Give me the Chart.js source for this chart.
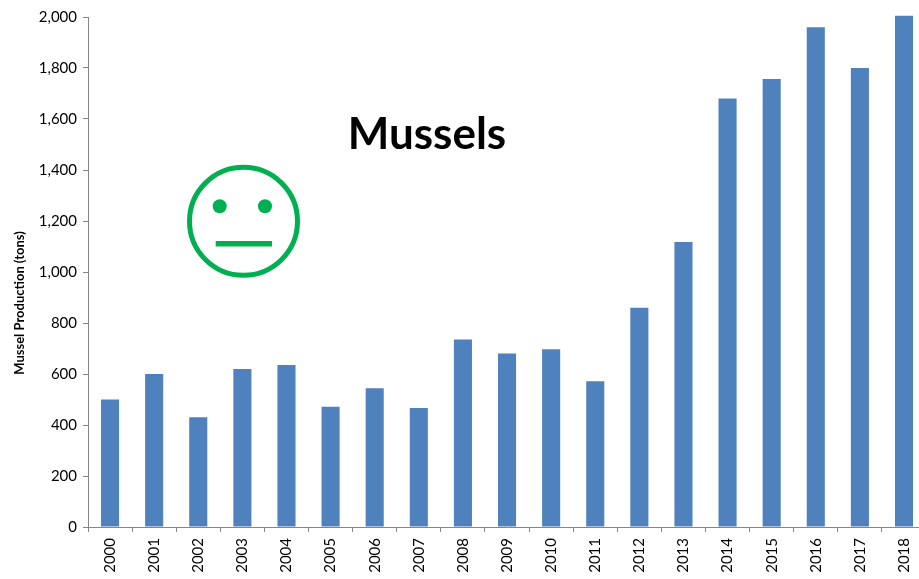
<!DOCTYPE html>
<html>
<head>
<meta charset="utf-8">
<title>Mussels</title>
<script src="https://cdn.jsdelivr.net/npm/chart.js@4"></script>
<style>
    html, body { margin: 0; padding: 0; width: 919px; height: 579px; overflow: hidden; background: #fff; }
    canvas { display: block; }
</style>
</head>
<body>
<canvas id="musselChart" width="928" height="579"></canvas>
<script>
const years = ['2000', '2001', '2002', '2003', '2004', '2005', '2006', '2007', '2008', '2009',
    '2010', '2011', '2012', '2013', '2014', '2015', '2016', '2017', '2018'];
const production = [500, 600, 430, 620, 635, 472, 544, 467, 735, 680,
    697, 572, 860, 1118, 1680, 1757, 1960, 1800, 2005];
const yTicks = [0, 200, 400, 600, 800, 1000, 1200, 1400, 1600, 1800, 2000];

const fontName = 'Lato, "Open Sans", sans-serif';
const axisGrey = '#868686';
const faceGreen = '#00B050';

// Title, y axis label and the face sit on top of the chart
const overlay = {
    id: 'overlay',
    afterDraw(chart) {
        const c = chart.ctx;
        c.save();
        c.fillStyle = '#000';
        c.font = 'bold 44px ' + fontName;
        c.textAlign = 'center';
        c.textBaseline = 'alphabetic';
        c.fillText('Mussels', 427, 149);

        c.save();
        c.translate(24, 303);
        c.rotate(-Math.PI / 2);
        c.font = 'bold 13px ' + fontName;
        c.fillText('Mussel Production (tons)', 0, 0);
        c.restore();

        c.strokeStyle = faceGreen;
        c.fillStyle = faceGreen;
        c.lineWidth = 5;
        c.beginPath();
        c.arc(243.5, 221.3, 54, 0, Math.PI * 2);
        c.stroke();
        [219.7, 265].forEach(x => {
            c.beginPath();
            c.arc(x, 206.3, 7, 0, Math.PI * 2);
            c.fill();
        });
        c.fillRect(215.7, 241, 56.3, 5.5);
        c.restore();
    }
};

new Chart(document.getElementById('musselChart').getContext('2d'), {
    type: 'bar',
    data: {
        labels: years,
        datasets: [{
            label: 'Mussel Production (tons)',
            data: production,
            backgroundColor: '#4F81BD',
            borderWidth: 0,
            barPercentage: 0.41,
            categoryPercentage: 1,
            clip: false
        }]
    },
    options: {
        responsive: false,
        animation: false,
        layout: { padding: { top: 17, right: 0, bottom: 0, left: 0 } },
        plugins: { legend: { display: false }, tooltip: { enabled: false } },
        scales: {
            x: {
                afterFit(scale) { scale.height = 52; },
                border: { color: axisGrey, width: 1 },
                grid: { drawOnChartArea: false, color: axisGrey, tickColor: axisGrey, tickLength: 5 },
                ticks: {
                    color: '#000',
                    font: { family: fontName, size: 15 },
                    minRotation: 90,
                    maxRotation: 90,
                    autoSkip: false,
                    padding: 6
                }
            },
            y: {
                min: 0,
                max: 2000,
                afterFit(scale) { scale.width = 88; },
                afterBuildTicks(scale) { scale.ticks = yTicks.map(v => ({ value: v })); },
                border: { color: axisGrey, width: 1 },
                grid: { drawOnChartArea: false, color: axisGrey, tickColor: axisGrey, tickLength: 5 },
                ticks: {
                    color: '#000',
                    font: { family: fontName, size: 15 },
                    padding: 6
                }
            }
        }
    },
    plugins: [overlay]
});
</script>
</body>
</html>
